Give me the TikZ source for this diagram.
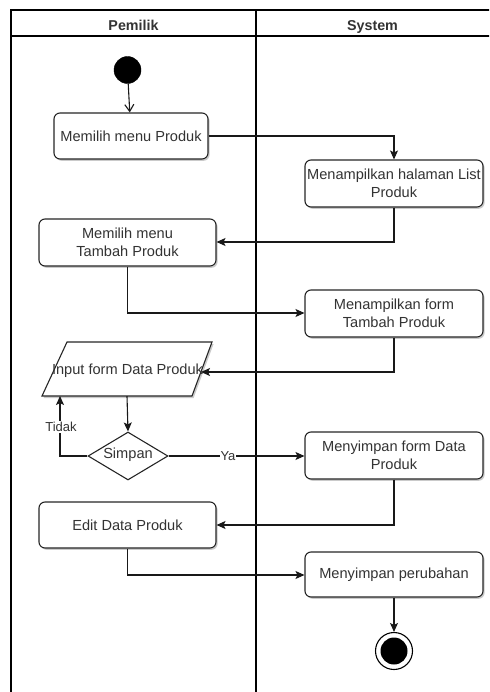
\documentclass[tikz,border=0pt]{standalone}
\usepackage{fontspec}
\setmainfont{Liberation Sans}
\usetikzlibrary{arrows.meta,shapes.geometric,shadows}
\definecolor{txt}{HTML}{333333}
\tikzset{
  lane/.style={draw=black, line width=1.2pt},
  head/.style={font=\bfseries\fontsize{14.3}{16}\selectfont, text=txt, anchor=base, inner sep=0pt},
  act/.style={draw=black!85, line width=1.1pt, fill=white, rounded corners=6pt,
    text=txt, align=center, font=\fontsize{14.6}{18}\selectfont, inner sep=0pt,
    drop shadow={shadow xshift=1.6pt, shadow yshift=-1.8pt, fill=black!35, opacity=0.6}},
  flow/.style={draw=black!90, line width=1.1pt, -{Stealth[length=9pt,width=8pt,inset=2pt]}},
  lbl/.style={fill=white, text=txt, inner sep=1pt, font=\fontsize{13}{15}\selectfont},
  plain/.style={text=txt, font=\fontsize{14.6}{18}\selectfont, inner sep=0pt},
}
\begin{document}
\begin{tikzpicture}[x=1pt,y=-1pt]
\useasboundingbox (0,0) rectangle (489,692);
% swimlane frame (runs past the page at the right and bottom)
\begin{scope}
\clip (0,0) rectangle (489,692);
\draw[lane] (11,700) -- (11,10) -- (500,10);
\draw[lane] (11,36) -- (500,36);
\draw[lane] (256,10) -- (256,700);
\end{scope}
\node[head] (h1) at (133.5,30.5) {Pemilik};
\node[head] (h2) at (372.5,30.5) {System};

% start
\node[circle, fill=black, draw=black, minimum size=27pt, inner sep=0pt] (start) at (127.5,70) {};

% activities
\node[act, minimum width=154pt, minimum height=46pt] (a1) at (131,136) {Memilih menu Produk};
\node[act, minimum width=178pt, minimum height=47pt] (a2) at (394,183.5) {Menampilkan halaman List\\Produk};
\node[act, minimum width=177pt, minimum height=47pt] (a3) at (127.5,242.5) {Memilih menu\\Tambah Produk};
\node[act, minimum width=178pt, minimum height=47pt] (a4) at (394,313.5) {Menampilkan form\\Tambah Produk};

% input parallelogram
\fill[black!35, opacity=0.6] (68.6,344) -- (213.6,344) -- (193.6,398) -- (43.6,398) -- cycle;
\draw[draw=black!85, line width=1.1pt, fill=white] (67,342) -- (212,342) -- (192,396) -- (42,396) -- cycle;
\node[minimum width=170pt, minimum height=54pt, inner sep=0pt] (inp) at (127,369) {};
\node[plain] (inpt) at (127.5,371) {Input form Data Produk};

% decision
\node[diamond, draw=black!85, line width=1.1pt, fill=white, aspect=1.67, minimum width=80pt,
  minimum height=48pt, inner sep=0pt] (dec) at (128,456) {};
\node[plain] (dect) at (128,455) {Simpan};

\node[act, minimum width=178pt, minimum height=47pt] (a5) at (394,455.5) {Menyimpan form Data\\Produk};
\node[act, minimum width=177pt, minimum height=46pt] (a6) at (127.5,525) {Edit Data Produk};
\node[act, minimum width=178pt, minimum height=45pt] (a7) at (394,574.5) {Menyimpan perubahan};

% end
\node[circle, draw=black, line width=1.1pt, fill=white, minimum size=37pt, inner sep=0pt] (endo) at (394,651) {};
\node[circle, fill=black, minimum size=27pt, inner sep=0pt] (endi) at (394,651) {};

% connectors
\coordinate (c1) at (394,136);
\coordinate (c2) at (394,242);
\coordinate (c3) at (127.5,313);
\coordinate (c4) at (394,372);
\coordinate (c5) at (60,456);
\coordinate (c6) at (394,525);
\coordinate (c7) at (127.5,575);
\coordinate (pr) at (201,372);
\coordinate (pb) at (60,396);

\draw[draw=black!90, line width=1.1pt, -{Straight Barb[length=7pt,width=9pt]}] (start) -- (a1);
\draw[flow] (a1.east) -- (c1) -- (a2.north);
\draw[flow] (a2.south) -- (c2) -- (a3.east |- c2);
\draw[flow] (a3.south) -- (c3) -- (a4.west |- c3);
\draw[flow] (a4.south) -- (c4) -- (pr);
\draw[flow] (inp.south) -- (dec.north);
\draw[flow] (dec.west) -- (c5) -- (pb);
\node[lbl] (tidak) at (61,427) {Tidak};
\draw[flow] (dec.east) -- (a5.west |- dec.east);
\node[lbl] (ya) at (228,456.5) {Ya};
\draw[flow] (a5.south) -- (c6) -- (a6.east |- c6);
\draw[flow] (a6.south) -- (c7) -- (a7.west |- c7);
\draw[flow] (a7.south) -- (endo.north);
\end{tikzpicture}
\end{document}
